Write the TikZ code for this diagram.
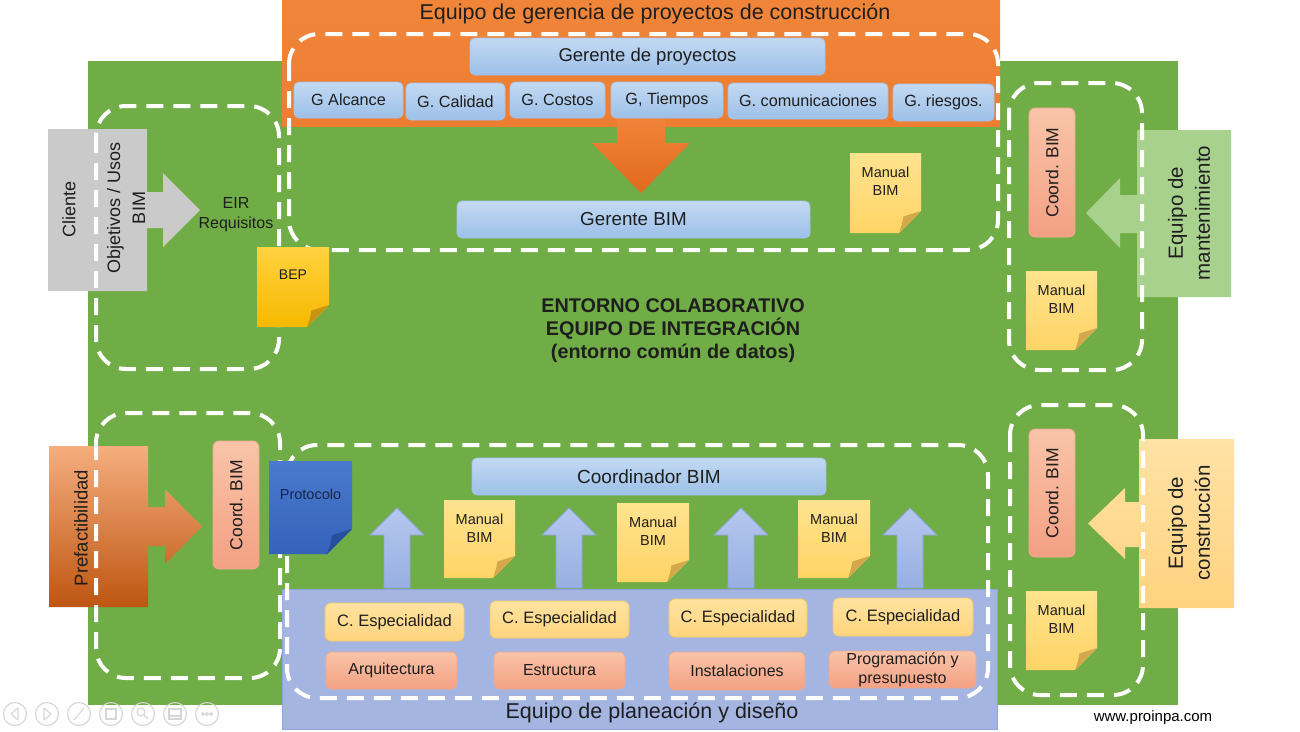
\documentclass[tikz,border=0pt]{standalone}
\usepackage{fontspec}
\usepackage{graphicx}
\setmainfont{Liberation Sans}
\definecolor{bggreen}{HTML}{70AD47}
\definecolor{hdrtop}{HTML}{F0853A}
\definecolor{hdrbot}{HTML}{ED7D31}
\definecolor{bluetop}{HTML}{C3D9F2}
\definecolor{bluebot}{HTML}{9CC0E8}
\definecolor{blueline}{HTML}{A7C3EA}
\definecolor{salmtop}{HTML}{F9C4A8}
\definecolor{salmbot}{HTML}{F3A083}
\definecolor{salmline}{HTML}{EFA98C}
\definecolor{espetop}{HTML}{FFE3A0}
\definecolor{espebot}{HTML}{FFD47E}
\definecolor{espeline}{HTML}{F5C86A}
\definecolor{lav}{HTML}{A5B5E2}
\definecolor{lavline}{HTML}{8FA3DA}
\definecolor{arrtop}{HTML}{B5C7EE}
\definecolor{arrbot}{HTML}{97AFE2}
\definecolor{arrline}{HTML}{8CA5DA}
\definecolor{cgray}{HTML}{CACACA}
\definecolor{mgreen}{HTML}{A9D18E}
\definecolor{constop}{HTML}{FFE2A6}
\definecolor{consbot}{HTML}{FFD37F}
\definecolor{prtop}{HTML}{F5AE7E}
\definecolor{prmid}{HTML}{EC7F35}
\definecolor{prbot}{HTML}{BE5512}
\definecolor{notetop}{HTML}{FFE38F}
\definecolor{notebot}{HTML}{FFD466}
\definecolor{notefold}{HTML}{D4A84A}
\definecolor{beptop}{HTML}{FFD23F}
\definecolor{bepbot}{HTML}{F7B900}
\definecolor{bepfold}{HTML}{C99412}
\definecolor{prottop}{HTML}{4A7AD0}
\definecolor{protbot}{HTML}{3562BA}
\definecolor{protfold}{HTML}{274F9C}
\definecolor{protink}{HTML}{16264A}
\definecolor{ink}{HTML}{1E1E1E}
\definecolor{iconc}{HTML}{D6D6D6}
\definecolor{arrotop}{HTML}{F08438}
\definecolor{arrobot}{HTML}{E2691E}

\tikzset{
  fs/.style 2 args={font=\fontsize{#1}{#2}\selectfont},
  fsb/.style 2 args={font=\fontsize{#1}{#2}\selectfont\bfseries},
  lbl/.style={text=ink, inner sep=0pt, align=center},
  gbox/.style={draw=blueline, line width=0.8pt, rounded corners=5pt, top color=bluetop, bottom color=bluebot, text=ink, inner sep=0pt, align=center},
  sbox/.style={draw=salmline, line width=0.8pt, rounded corners=6pt, top color=salmtop, bottom color=salmbot, text=ink, inner sep=0pt, align=center},
  ebox/.style={draw=espeline, line width=0.8pt, rounded corners=6pt, top color=espetop, bottom color=espebot, text=ink, inner sep=0pt, align=center},
  dashbox/.style={draw=white, line width=4pt, dash pattern=on 17pt off 10pt, rounded corners=30pt},
  uparrow/.style={draw=arrline, line width=0.8pt, top color=arrtop, bottom color=arrbot},
  iconline/.style={draw=iconc, line width=1.1pt},
}

% box from corners: style, name, x1, y1, x2, y2, text
\newcommand{\cornerbox}[7]{\node[#1, minimum width={(#5-#3)*1pt}, minimum height={(#6-#4)*1pt}] (#2) at ({(#3+#5)/2},{(#4+#6)/2}) {#7};}
% sticky note: top colour, bottom colour, fold colour, x1, y1, x2, y2, fold size
\newcommand{\stickynote}[8]{%
  \shade[top color=#1, bottom color=#2] (#4,#5) -- (#6,#5) -- (#6,{#7-#8}) -- ({#6-#8},#7) -- (#4,#7) -- cycle;
  \fill[#3] (#6,{#7-#8}) -- ({#6-#8},#7) .. controls ({#6-0.85*#8},{#7-0.45*#8}) .. ({#6-0.8*#8},{#7-0.75*#8}) -- cycle;
}
% blue up arrow centred at x
\newcommand{\bluearrow}[1]{\path[uparrow] ({#1-13},588) -- ({#1-13},535) -- ({#1-27},535) -- (#1,508) -- ({#1+27},535) -- ({#1+13},535) -- ({#1+13},588) -- cycle;}

\begin{document}
\begin{tikzpicture}[x=1pt,y=-1pt]
\useasboundingbox (0,0) rectangle (1300,731);
\fill[white] (0,0) rectangle (1300,731);

% main green environment
\fill[bggreen] (88,61) rectangle (1178,705);

% header
\shade[top color=hdrtop, bottom color=hdrbot] (282,0) rectangle (1000,126);
\node[lbl, fs={21.5}{25}] (hdr) at (655,14) {Equipo de gerencia de proyectos de construcción};

% orange down arrow
\shade[top color=arrotop, bottom color=arrobot] (617,118) -- (665,118) -- (665,143) -- (690,143) -- (641,193) -- (592,143) -- (617,143) -- cycle;

% planning team area
\path[fill=lav, draw=lavline, line width=0.8pt] (282,589) rectangle (997,729);
\node[lbl, fs={21.5}{25}] (plan) at (652,713) {Equipo de planeación y diseño};

% Cliente block with arrow
\fill[cgray] (48,129) -- (147,129) -- (147,192) -- (163,192) -- (163,173) -- (200,210) -- (163,247) -- (163,228) -- (147,228) -- (147,291) -- (48,291) -- cycle;
% Prefactibilidad block with arrow
\shade[top color=prtop, middle color=prmid, bottom color=prbot] (49,446) -- (148,446) -- (148,507) -- (165,507) -- (165,489) -- (202,526.5) -- (165,564) -- (165,546) -- (148,546) -- (148,607) -- (49,607) -- cycle;
% Mantenimiento block with arrow
\fill[mgreen] (1231,130) -- (1137,130) -- (1137,195) -- (1120,195) -- (1120,178) -- (1086,213) -- (1120,248) -- (1120,233) -- (1137,233) -- (1137,297) -- (1231,297) -- cycle;
% Construccion block with arrow
\shade[top color=constop, bottom color=consbot] (1234,439) -- (1139,439) -- (1139,502) -- (1125,502) -- (1125,488) -- (1088,523.5) -- (1125,559) -- (1125,547) -- (1139,547) -- (1139,608) -- (1234,608) -- cycle;

% dashed groups
\draw[dashbox] (289,34) rectangle (998,250);
\draw[dashbox] (96,106) rectangle (279,369);
\draw[dashbox] (96,413) rectangle (280,678);
\draw[dashbox] (1009,83) rectangle (1142,370);
\draw[dashbox] (1010,405) rectangle (1143,695);
\draw[dashbox] (287,445) rectangle (988,698);

% side labels
\node[lbl, rotate=90, fs={18}{22}] (cliente) at (69,209) {Cliente};
\node[lbl, rotate=90, fs={18}{25}] (objetivos) at (126,208) {Objetivos / Usos\\BIM};
\node[lbl, fs={16}{20}] (eir) at (236,215) {EIR\\Requisitos};
\node[lbl, rotate=90, fs={18.5}{22}] (prefac) at (81,528) {Prefactibilidad};
\node[lbl, rotate=90, fs={20.5}{27}] (mant) at (1189,213) {Equipo de\\mantenimiento};
\node[lbl, rotate=90, fs={20.5}{27}] (constr) at (1189,523) {Equipo de\\construcción};

% management boxes
\cornerbox{gbox, fs={18.5}{22}}{gproy}{470}{38}{825}{75}{Gerente de proyectos}
\cornerbox{gbox, fs={16.2}{19}}{galc}{294}{82}{403}{118}{G Alcance}
\cornerbox{gbox, fs={16.2}{19}}{gcal}{406}{83}{505}{120}{G. Calidad}
\cornerbox{gbox, fs={16.2}{19}}{gcos}{510}{82}{605}{118}{G. Costos}
\cornerbox{gbox, fs={16.2}{19}}{gtie}{611}{82}{723}{118}{G, Tiempos}
\cornerbox{gbox, fs={16.2}{19}}{gcom}{728}{83}{888}{119}{G. comunicaciones}
\cornerbox{gbox, fs={16.2}{19}}{grie}{893}{84}{994}{121}{G. riesgos.}
\cornerbox{gbox, fs={18.8}{22}}{gbim}{457}{201}{810}{238}{Gerente BIM}
\cornerbox{gbox, fs={19}{22}}{cbim}{472}{458}{826}{495}{Coordinador BIM}

% coordinators
\cornerbox{sbox, fs={17.5}{20}}{coordL}{213}{441}{259}{569}{\rotatebox{90}{Coord. BIM}}
\cornerbox{sbox, fs={17.5}{20}}{coordRT}{1029}{108}{1075}{237}{\rotatebox{90}{Coord. BIM}}
\cornerbox{sbox, fs={17.5}{20}}{coordRB}{1029}{429}{1075}{557}{\rotatebox{90}{Coord. BIM}}

% up arrows
\bluearrow{397}
\bluearrow{569}
\bluearrow{741}
\bluearrow{910}

% specialty boxes
\cornerbox{ebox, fs={16.5}{19}}{esp1}{325}{603}{464}{641}{C. Especialidad}
\cornerbox{ebox, fs={16.5}{19}}{esp2}{490}{601}{629}{638}{C. Especialidad}
\cornerbox{ebox, fs={16.5}{19}}{esp3}{669}{599}{807}{637}{C. Especialidad}
\cornerbox{ebox, fs={16.5}{19}}{esp4}{833}{598}{973}{636}{C. Especialidad}
\cornerbox{sbox, fs={16}{19}}{arq}{326}{652}{457}{689}{Arquitectura}
\cornerbox{sbox, fs={16}{19}}{est}{494}{652}{625}{689}{Estructura}
\cornerbox{sbox, fs={16}{19}}{ins}{669}{652}{805}{690}{Instalaciones}
\cornerbox{sbox, fs={16}{19}}{prog}{829}{651}{976}{688}{Programación y\\presupuesto}

% notes
\stickynote{notetop}{notebot}{notefold}{850}{153}{921}{233}{22}
\node[lbl, fs={14.5}{18}] (manT) at (885.5,181) {Manual\\BIM};
\stickynote{notetop}{notebot}{notefold}{1026}{271}{1097}{350}{22}
\node[lbl, fs={14.5}{18}] (manRT) at (1061.5,299) {Manual\\BIM};
\stickynote{notetop}{notebot}{notefold}{1026}{591}{1097}{670}{22}
\node[lbl, fs={14.5}{18}] (manRB) at (1061.5,619) {Manual\\BIM};
\stickynote{notetop}{notebot}{notefold}{444}{500}{515}{578}{22}
\node[lbl, fs={14.5}{18}] (man1) at (479.5,528) {Manual\\BIM};
\stickynote{notetop}{notebot}{notefold}{617}{503}{689}{582}{22}
\node[lbl, fs={14.5}{18}] (man2) at (653,531) {Manual\\BIM};
\stickynote{notetop}{notebot}{notefold}{798}{500}{870}{578}{22}
\node[lbl, fs={14.5}{18}] (man3) at (834,528) {Manual\\BIM};
\stickynote{beptop}{bepbot}{bepfold}{257}{247}{329}{327}{22}
\node[lbl, fs={14}{17}] (bep) at (293,275) {BEP};
\stickynote{prottop}{protbot}{protfold}{269}{461}{352}{554}{25}
\node[lbl, fs={14.5}{17}, text=protink] (prot) at (310.5,494) {Protocolo};

% central text
\node[lbl, fsb={19.8}{23}] (centro) at (673,331) {ENTORNO COLABORATIVO\\EQUIPO DE INTEGRACIÓN\\(entorno común de datos)};

% footer
\node[lbl, fs={15}{18}, text=black] (web) at (1153,718) {www.proinpa.com};

% presentation toolbar
\foreach \cx in {15,47,79,111,143,175,207}{
  \draw[iconline] (\cx,714) circle (11.5);
}
\draw[iconline, line join=round] (18,708) -- (11,714) -- (18,720) -- cycle;
\draw[iconline, line join=round] (44,708) -- (51,714) -- (44,720) -- cycle;
\draw[iconline] (74,720) -- (84,708);
\draw[iconline] (106,709) rectangle (116,719);
\draw[iconline] (141,712) circle (4);
\draw[iconline] (144,715) -- (148,719);
\draw[iconline] (169,709) rectangle (181,719);
\draw[iconline] (169,716) -- (181,716);
\foreach \dx in {-4,0,4}{ \draw[iconline] ({207+\dx},714) circle (1.3); }
\end{tikzpicture}
\end{document}
